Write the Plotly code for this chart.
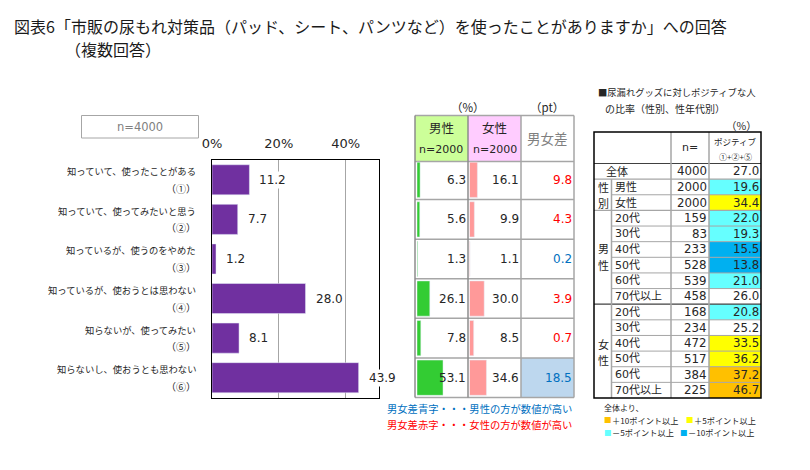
# plot.py - 尿もれ対策品の使用経験 (chart + side tables)
import plotly.graph_objects as go

W, H = 810, 470
PAGE_PAD = 8  # default body margin of the written page
FONT = "DejaVu Sans, Noto Sans CJK JP"
JP_FONT = "Noto Sans CJK JP"

answers = ["知っていて、使ったことがある", "知っていて、使ってみたいと思う", "知っているが、使うのをやめた",
           "知っているが、使おうとは思わない", "知らないが、使ってみたい", "知らないし、使おうとも思わない"]
answer_marks = ["（①）", "（②）", "（③）", "（④）", "（⑤）", "（⑥）"]
total_pct = [11.2, 7.7, 1.2, 28.0, 8.1, 43.9]
male_pct = [6.3, 5.6, 1.3, 26.1, 7.8, 53.1]
female_pct = [16.1, 9.9, 1.1, 30.0, 8.5, 34.6]
diff_pt = [9.8, 4.3, 0.2, 3.9, 0.7, 18.5]

group_labels = ["全体", "男性", "女性", "20代", "30代", "40代", "50代", "60代", "70代以上",
                "20代", "30代", "40代", "50代", "60代", "70代以上"]
group_n = [4000, 2000, 2000, 159, 83, 233, 528, 539, 458, 168, 234, 472, 517, 384, 225]
positive_pct = [27.0, 19.6, 34.4, 22.0, 19.3, 15.5, 13.8, 21.0, 26.0, 20.8, 25.2, 33.5, 36.2, 37.2, 46.7]

BLUE, RED = "#0070C0", "#FF0000"
ORANGE, YELLOW, CYAN, SKY = "#FFC000", "#FFFF00", "#66FFFF", "#00B0F0"
TEXT = "#262626"
GRAY = "#A6A6A6"


def px(x):
    return (x - PAGE_PAD) / (W - PAGE_PAD)


def py(y):
    return 1 - (y - PAGE_PAD) / (H - PAGE_PAD)


shapes = []
annotations = []


def rect(x0, y0, x1, y1, fill=None, line=None, width=1, layer="below"):
    shapes.append(dict(type="rect", xref="paper", yref="paper", x0=px(x0), x1=px(x1), y0=py(y0), y1=py(y1),
                       fillcolor=fill or "rgba(0,0,0,0)", layer=layer,
                       line=dict(color=line or "rgba(0,0,0,0)", width=width if line else 0)))


def hline(x0, x1, y, color=GRAY, width=1, layer="below"):
    shapes.append(dict(type="line", xref="paper", yref="paper", x0=px(x0), x1=px(x1), y0=py(y), y1=py(y),
                       layer=layer, line=dict(color=color, width=width)))


def vline(x, y0, y1, color=GRAY, width=1, layer="below"):
    shapes.append(dict(type="line", xref="paper", yref="paper", x0=px(x), x1=px(x), y0=py(y0), y1=py(y1),
                       layer=layer, line=dict(color=color, width=width)))


def label(x, y, text, size=12, color=TEXT, anchor="left", bg=None, family=FONT):
    annotations.append(dict(xref="paper", yref="paper", x=px(x), y=py(y), text=text, showarrow=False,
                            xanchor=anchor, yanchor="middle", borderpad=0, borderwidth=0, bgcolor=bg,
                            font=dict(size=size, color=color, family=family)))


# title
label(14, 26.5, "図表6「市販の尿もれ対策品（パッド、シート、パンツなど）を使ったことがありますか」への回答", 16, "#1a1a1a", family=JP_FONT)
label(65, 49.5, "（複数回答）", 16, "#1a1a1a", family=JP_FONT)

# n box
rect(81.5, 115.5, 198.5, 138, line=GRAY, width=1)
label(140, 127, "n=4000", 11.5, "#7f7f7f", "center")

# chart geometry shared with the middle table
TOP, BOTTOM = 160, 397.5
ROW = (BOTTOM - TOP) / len(answers)

for i, (a, m) in enumerate(zip(answers, answer_marks)):
    cy = TOP + ROW * (i + 0.5)
    label(196, cy - 8.5, a, 9.3, TEXT, "right", family=JP_FONT)
    label(196, cy + 8.5, m, 10, TEXT, "right", family=JP_FONT)

# middle table
MX = [415, 468, 521, 574]
rect(MX[0], 115.5, MX[1], 161.5, fill="#CCFF99")
rect(MX[1], 115.5, MX[2], 161.5, fill="#FFCCFF")
for i, d in enumerate(diff_pt):
    if d >= 10:
        rect(MX[2], TOP + ROW * i, MX[3], TOP + ROW * (i + 1), fill="#BDD7EE")
hline(MX[0], MX[3], 115.5, GRAY, 1.5)
hline(MX[0], MX[3], 161.5, GRAY, 1.5)
for i in range(1, len(answers) + 1):
    hline(MX[0], MX[3], TOP + ROW * i, GRAY, 1.5)
for x in MX:
    vline(x, 115.5, BOTTOM, "#8c8c8c" if x in (MX[0], MX[1]) else GRAY, 1.5)

label(468, 107, "（%）", 11.5, TEXT, "center", family=JP_FONT)
label(547, 107, "（pt）", 11.5, TEXT, "center", family=JP_FONT)
label(441.5, 128, "男性", 12.5, TEXT, "center", family=JP_FONT)
label(441.5, 150, "n=2000", 11, TEXT, "center")
label(494.5, 128, "女性", 12.5, TEXT, "center", family=JP_FONT)
label(494.5, 150, "n=2000", 11, TEXT, "center")
label(547.5, 138, "男女差", 13.5, "#7f7f7f", "center", family=JP_FONT)

for i in range(len(answers)):
    cy = TOP + ROW * (i + 0.5)
    label(466, cy, f"{male_pct[i]:.1f}", 12, TEXT, "right")
    label(518.5, cy, f"{female_pct[i]:.1f}", 12, TEXT, "right")
    label(571.5, cy, f"{diff_pt[i]:.1f}", 12, BLUE if male_pct[i] > female_pct[i] else RED, "right")

label(572, 408, "男女差青字・・・男性の方が数値が高い", 10.3, BLUE, "right", family=JP_FONT)
label(572, 424, "男女差赤字・・・女性の方が数値が高い", 10.3, RED, "right", family=JP_FONT)

# right table
label(598, 92, "■尿漏れグッズに対しポジティブな人", 9.3, TEXT, family=JP_FONT)
label(605, 109, "の比率（性別、性年代別）", 10, TEXT, family=JP_FONT)
label(741, 125, "（%）", 10.5, TEXT, "center", family=JP_FONT)

RX = [594, 611.5, 671, 709, 761]
RT, RH, RB = 132, 163.5, 398
RROW = (RB - RH) / len(group_labels)
base = positive_pct[0]
for i, v in enumerate(positive_pct):
    d = v - base
    fill = ORANGE if d >= 10 else YELLOW if d >= 5 else SKY if d <= -10 else CYAN if d <= -5 else None
    if fill:
        rect(RX[3], RH + RROW * i, RX[4], RH + RROW * (i + 1), fill=fill)
for i in range(1, len(group_labels)):
    if i in (1, 3, 9):
        hline(RX[0], RX[4], RH + RROW * i, "#404040" if i == 9 else GRAY, 1.2)
    else:
        hline(RX[1], RX[4], RH + RROW * i, GRAY, 1)
hline(RX[0], RX[4], RH, "#404040", 1.2)
vline(RX[1], RH + RROW, RB, GRAY, 1.5)
vline(RX[2], RT, RB, GRAY, 1.5)
vline(RX[3], RT, RB, GRAY, 1.5)
rect(RX[0], RT, RX[4], RB, line="#000000", width=1.5)

label(690, 148, "n=", 11, TEXT, "center")
label(735, 141, "ポジティブ", 8.5, TEXT, "center", family=JP_FONT)
label(735, 156, "①+②+⑤", 8, TEXT, "center", family=JP_FONT)
for i, (g, n, v) in enumerate(zip(group_labels, group_n, positive_pct)):
    cy = RH + RROW * (i + 0.5)
    if i == 0:
        label(617, cy, g, 11, TEXT, "center", family=JP_FONT)
    else:
        label(615, cy, g, 11, TEXT)
    label(707, cy, str(n), 11.8, TEXT, "right")
    label(759, cy, f"{v:.1f}", 11.8, TEXT, "right")

for y, ch in [(187, "性"), (202.5, "別"), (248, "男"), (265, "性"), (344, "女"), (360, "性")]:
    label(603, y, ch, 11, TEXT, "center", family=JP_FONT)

# colour key
label(604, 407, "全体より、", 8, TEXT, family=JP_FONT)
for x, y, c, t in [(604, 419.5, ORANGE, "＋10ポイント以上"), (686, 419.5, YELLOW, "＋5ポイント以上"),
                   (604, 432, CYAN, "－5ポイント以上"), (680, 432, SKY, "－10ポイント以上")]:
    label(x, y, "■", 7.5, c, family=JP_FONT)
    label(x + 8, y, t, 8.2, TEXT, family=JP_FONT)

# value labels on the main bars
for a, v in zip(answers, total_pct):
    annotations.append(dict(xref="x", yref="y", x=v, y=a, text=f"{v:.1f}", showarrow=False, xanchor="left",
                            xshift=8, yanchor="middle", bgcolor="white", borderpad=1,
                            font=dict(size=12, color=TEXT, family=FONT)))

fig = go.Figure()
fig.add_trace(go.Bar(x=total_pct, y=answers, orientation="h", marker=dict(color="#7030A0"), xaxis="x", yaxis="y"))
fig.add_trace(go.Bar(x=male_pct, y=answers, orientation="h", marker=dict(color="#33CC33"), xaxis="x2", yaxis="y2", width=0.89))
fig.add_trace(go.Bar(x=female_pct, y=answers, orientation="h", marker=dict(color="#FF9999"), xaxis="x3", yaxis="y2", width=0.89))

fig.update_layout(
    width=W - PAGE_PAD, height=H - PAGE_PAD, margin=dict(l=0, r=0, t=0, b=0, autoexpand=False), showlegend=False,
    plot_bgcolor="rgba(0,0,0,0)", paper_bgcolor="white", font=dict(family=FONT), bargap=0.24,
    xaxis=dict(domain=[px(212), px(379)], range=[0, 50], dtick=20, ticksuffix="%", side="top", anchor="y",
               showgrid=True, gridcolor="#A6A6A6", gridwidth=1, showline=True, linecolor="black", linewidth=1,
               mirror=True, ticks="outside", ticklen=6, tickcolor="rgba(0,0,0,0)", zeroline=False, automargin=False,
               tickfont=dict(size=13, color=TEXT)),
    yaxis=dict(domain=[py(BOTTOM), py(TOP)], autorange="reversed", type="category", showticklabels=False, ticks="",
               showline=True, linecolor="black", linewidth=1, mirror=True, anchor="x", automargin=False),
    xaxis2=dict(domain=[px(417), px(466)], range=[0, 100], visible=False, anchor="y2", automargin=False),
    xaxis3=dict(domain=[px(469.5), px(518.5)], range=[0, 100], visible=False, anchor="y2", automargin=False),
    yaxis2=dict(domain=[py(BOTTOM), py(TOP)], autorange="reversed", type="category", visible=False, anchor="x2",
                automargin=False),
    shapes=shapes, annotations=annotations,
)
fig.write_html("out.html")
